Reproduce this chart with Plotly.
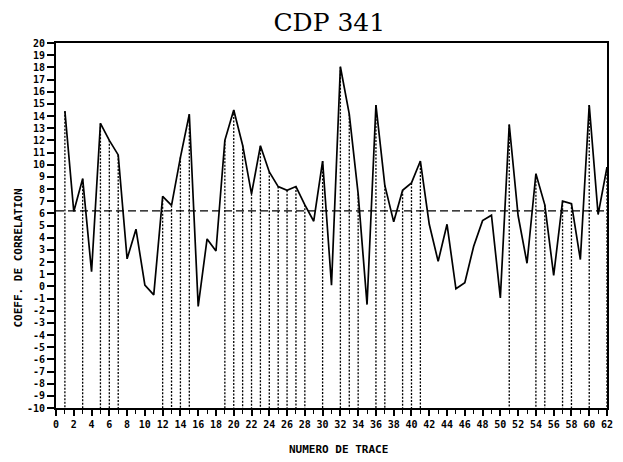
import plotly.graph_objects as go

# Correlation coefficient per trace for CDP 341
traces = list(range(1, 63))
coeff = [14.4, 6.15, 8.85, 1.2, 13.4, 12.0, 10.8, 2.26, 4.7, 0.1,
         -0.7, 7.4, 6.65, 10.6, 14.15, -1.65, 3.9, 2.9, 12.0, 14.5,
         11.6, 7.6, 11.55, 9.4, 8.2, 7.9, 8.2, 6.7, 5.35, 10.3,
         0.1, 18.05, 14.15, 7.6, -1.5, 14.9, 8.3, 5.3, 7.9, 8.5,
         10.3, 5.1, 2.05, 5.1, -0.2, 0.3, 3.3, 5.4, 5.85, -0.95,
         13.3, 5.8, 1.9, 9.25, 6.7, 0.9, 7.0, 6.8, 2.2, 14.9,
         5.9, 9.8]
seuil = 6.2
y_min, y_max = -10, 20
x_min, x_max = 0, 62

y_ticks = list(range(y_min, y_max + 1))
y_ticktext = [str(v) for v in y_ticks]
x_ticks = list(range(x_min, x_max + 1, 2))
x_ticktext = [str(v) for v in x_ticks]

mono = "DejaVu Sans Mono"

# dotted drops from every trace above the threshold down to the axis floor
drop_x, drop_y = [], []
for t, c in zip(traces, coeff):
    if c > seuil:
        drop_x += [t, t, None]
        drop_y += [c, y_min, None]

fig = go.Figure()
fig.add_trace(go.Scatter(x=drop_x, y=drop_y, mode="lines",
                         line=dict(color="black", width=1.3, dash="2px,1.5px"),
                         hoverinfo="skip", showlegend=False))
fig.add_trace(go.Scatter(x=[x_min, x_max], y=[seuil, seuil], mode="lines",
                         line=dict(color="black", width=1.4, dash="8px,4px"),
                         showlegend=False))
fig.add_trace(go.Scatter(x=traces, y=coeff, mode="lines",
                         line=dict(color="black", width=1.7),
                         showlegend=False))

fig.update_layout(
    width=623, height=462,
    margin=dict(l=56, r=10, t=43, b=54),
    paper_bgcolor="white", plot_bgcolor="white",
    title=dict(text="CDP 341", xref="paper", x=0.496, xanchor="center",
               yref="container", y=0.952, yanchor="middle",
               font=dict(family="DejaVu Serif", size=25, color="black")),
    xaxis=dict(range=[x_min, x_max], tickvals=x_ticks, ticktext=x_ticktext,
               ticks="outside", ticklen=6, tickwidth=1.5, tickcolor="black",
               minor=dict(dtick=1, ticks="outside", ticklen=4, tickwidth=1.2,
                          tickcolor="black"),
               showline=True, linecolor="black", linewidth=2, mirror=True,
               showgrid=False, zeroline=False,
               tickfont=dict(family=mono, size=10, color="black", weight="bold")),
    yaxis=dict(range=[y_min, y_max], tickvals=y_ticks, ticktext=y_ticktext,
               ticks="outside", ticklen=7, tickwidth=1.5, tickcolor="black",
               showline=True, linecolor="black", linewidth=2, mirror=True,
               showgrid=False, zeroline=False,
               tickfont=dict(family=mono, size=10, color="black", weight="bold")),
    annotations=[
        dict(text="NUMERO DE TRACE", xref="paper", yref="paper",
             x=0.512, y=-0.115, xanchor="center", yanchor="middle",
             showarrow=False,
             font=dict(family=mono, size=11, color="black", weight="bold")),
        dict(text="COEFF. DE CORRELATION", xref="paper", yref="paper",
             x=-0.068, y=0.411, xanchor="center", yanchor="middle",
             textangle=-90, showarrow=False,
             font=dict(family=mono, size=11, color="black", weight="bold")),
    ],
)

fig.write_html("out.html")
